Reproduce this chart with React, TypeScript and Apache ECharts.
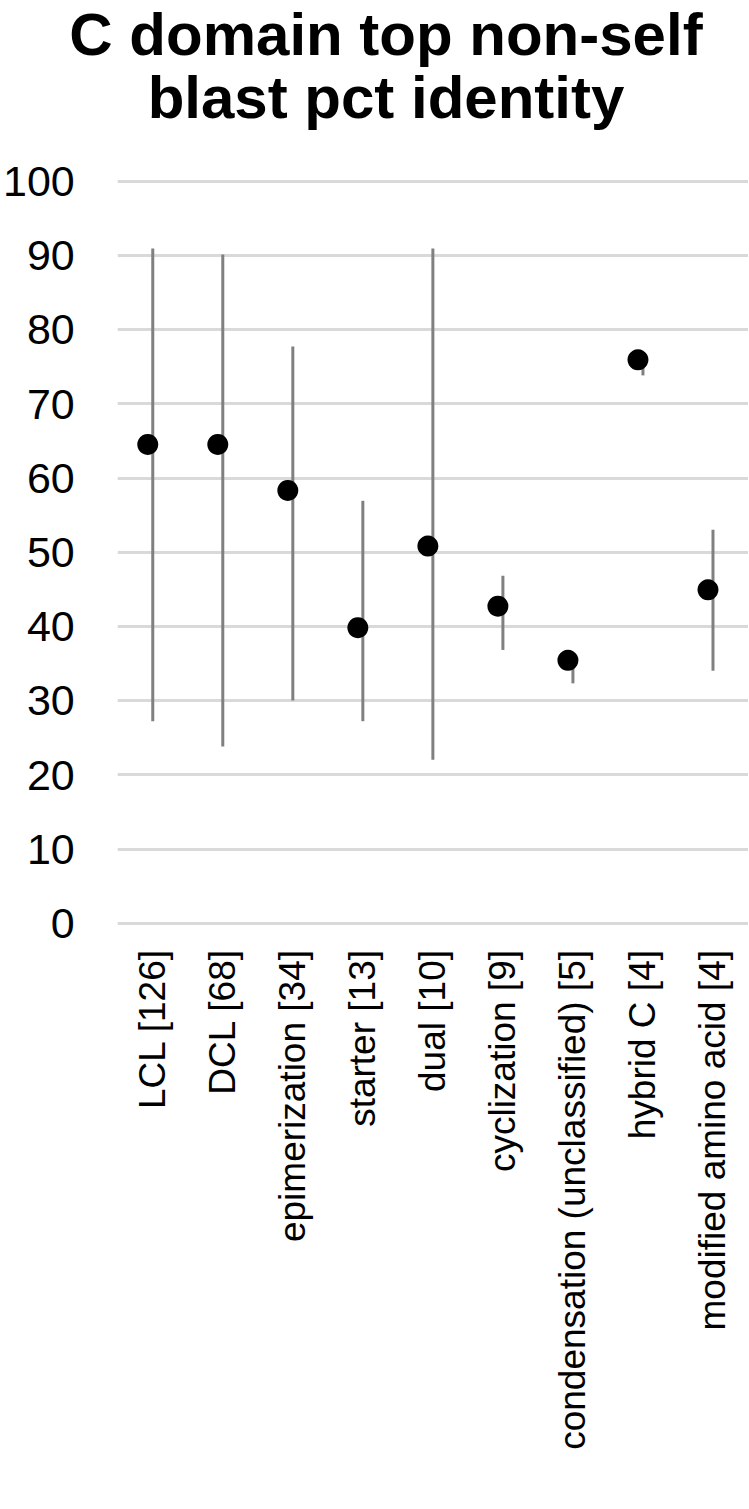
import React, { useEffect, useRef } from "react";
import * as echarts from "echarts";

const categories = [
  "LCL [126]",
  "DCL [68]",
  "epimerization [34]",
  "starter [13]",
  "dual [10]",
  "cyclization [9]",
  "condensation (unclassified) [5]",
  "hybrid C [4]",
  "modified amino acid [4]",
];
const highs = [90.9, 90.1, 77.7, 56.9, 90.9, 46.8, 36.0, 76.0, 53.0];
const values = [64.5, 64.5, 58.3, 39.8, 50.8, 42.7, 35.4, 75.9, 44.9];
const lows = [27.2, 23.8, 30.0, 27.2, 22.0, 36.8, 32.3, 73.8, 34.0];
const yTicks = { min: 0, max: 100, interval: 10 };
const titleLines = ["C domain top non-self", "blast pct identity"];
const titleTops = [4, 67];

const FONT = "'Liberation Sans', Arial, Helvetica, sans-serif";

export default function App() {
  const ref = useRef<HTMLDivElement>(null);
  useEffect(() => {
    if (!ref.current) return;
    const chart = echarts.init(ref.current, undefined, { renderer: "svg" });
    const rangeData = categories.map((_, i) => [i, lows[i], highs[i]]);
    chart.setOption({
      animation: false,
      backgroundColor: "#ffffff",
      title: titleLines.map((t, i) => ({
        text: t,
        left: 386,
        top: titleTops[i],
        padding: 0,
        textAlign: "center",
        textStyle: {
          fontFamily: FONT,
          fontSize: 60,
          fontWeight: "bold",
          lineHeight: 60,
          color: "#000000",
        },
      })),
      grid: { left: 116, right: 1, top: 181, bottom: 586, containLabel: false },
      xAxis: {
        type: "category",
        data: categories,
        boundaryGap: true,
        axisLine: { show: false },
        axisTick: { show: false },
        axisLabel: {
          interval: 0,
          rotate: 90,
          margin: 27,
          fontSize: 37,
          fontFamily: FONT,
          color: "#000000",
        },
      },
      yAxis: {
        type: "value",
        min: yTicks.min,
        max: yTicks.max,
        interval: yTicks.interval,
        axisLine: { show: false },
        axisTick: { show: false },
        axisLabel: {
          margin: 43,
          fontSize: 43,
          fontFamily: FONT,
          color: "#000000",
        },
        splitLine: { show: true, lineStyle: { color: "#d9d9d9", width: 3 } },
      },
      series: [
        {
          type: "custom",
          data: rangeData,
          encode: { x: 0, y: [1, 2] },
          z: 2,
          renderItem: (params: any, api: any) => {
            const p1 = api.coord([api.value(0), api.value(1)]);
            const p2 = api.coord([api.value(0), api.value(2)]);
            return {
              type: "line",
              shape: { x1: p1[0], y1: p1[1], x2: p2[0], y2: p2[1] },
              style: { stroke: "#808080", lineWidth: 3 },
            };
          },
        },
        {
          type: "scatter",
          data: values,
          symbol: "circle",
          symbolSize: 21,
          symbolOffset: [-5, 0],
          itemStyle: { color: "#000000", opacity: 1 },
          z: 3,
        },
      ],
    });
    return () => chart.dispose();
  }, []);
  return (
    <div
      ref={ref}
      style={{ position: "absolute", left: 0, top: 0, width: 749, height: 1509 }}
    />
  );
}
